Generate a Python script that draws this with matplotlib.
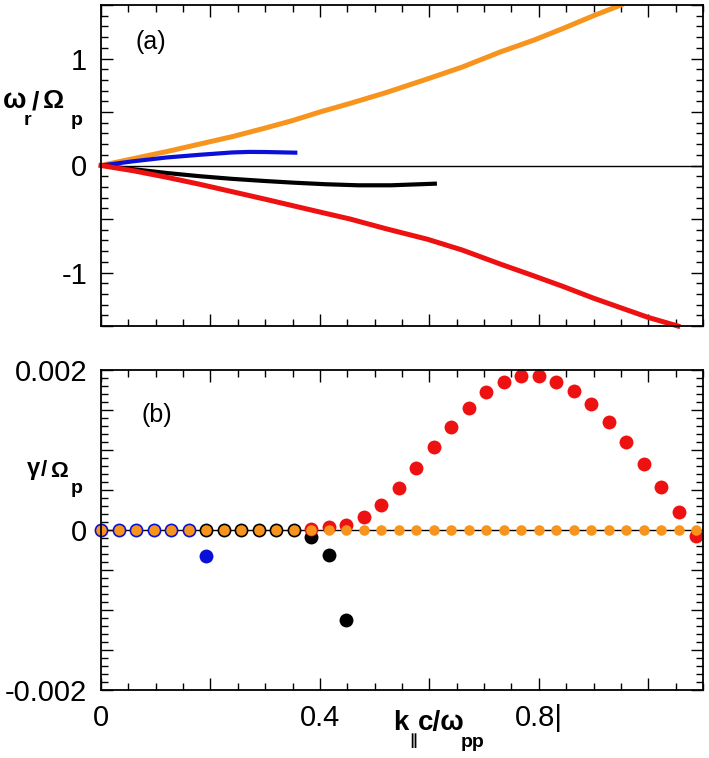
import numpy as np
import matplotlib
matplotlib.use('Agg')
import matplotlib.pyplot as plt
from matplotlib.ticker import MultipleLocator, FuncFormatter

plt.rcParams['font.family'] = ['Liberation Sans', 'DejaVu Sans']

orange_k = [0, 0.06, 0.12, 0.18, 0.24, 0.30, 0.35, 0.40, 0.455, 0.52, 0.597,
            0.66, 0.729, 0.79, 0.844, 0.90, 0.95]
orange_w = [0, 0.065, 0.13, 0.20, 0.27, 0.35, 0.42, 0.50, 0.58, 0.68, 0.81,
            0.92, 1.06, 1.17, 1.28, 1.40, 1.50]
blue_k = [0, 0.06, 0.12, 0.18, 0.24, 0.27, 0.30, 0.355]
blue_w = [0, 0.04, 0.075, 0.10, 0.122, 0.127, 0.126, 0.12]
black_k = [0, 0.06, 0.12, 0.18, 0.24, 0.30, 0.35, 0.41, 0.47, 0.53, 0.61]
black_w = [0, -0.035, -0.07, -0.10, -0.125, -0.145, -0.16, -0.175, -0.185,
           -0.185, -0.17]
red_k = [0, 0.06, 0.12, 0.18, 0.24, 0.30, 0.35, 0.40, 0.455, 0.52, 0.597,
         0.66, 0.729, 0.79, 0.844, 0.90, 0.95, 1.00, 1.054]
red_w = [0, -0.05, -0.11, -0.175, -0.245, -0.315, -0.375, -0.435, -0.50,
         -0.59, -0.69, -0.79, -0.92, -1.03, -1.13, -1.24, -1.33, -1.42, -1.50]

# (b) growth rates
k_grid = [0.0, 0.032, 0.064, 0.096, 0.128, 0.16, 0.192, 0.224, 0.256, 0.288,
          0.32, 0.352, 0.384, 0.416, 0.448, 0.48, 0.512, 0.544, 0.576, 0.608,
          0.64, 0.672, 0.704, 0.736, 0.768, 0.8, 0.832, 0.864, 0.896, 0.928,
          0.96, 0.992, 1.024, 1.056, 1.088]
blue_g = [0, 0, 0, 0, 0, 0, -0.00033]                      # k_grid[0:7]
black_g = [0, 0, 0, 0, 0, 0, -0.00009, -0.00031, -0.00113]  # k_grid[6:15]
red_g = [0.00001, 0.00004, 0.00006, 0.00016, 0.00031, 0.00052, 0.00077,
         0.00104, 0.00129, 0.00153, 0.00173, 0.00185, 0.00192, 0.00192,
         0.00185, 0.00174, 0.00158, 0.00135, 0.0011, 0.00083, 0.00054,
         0.00023, -0.00008]                                  # k_grid[12:35]
orange_g = [0] * len(k_grid)

c_orange = '#f7941d'
c_red = '#ee1111'
c_blue = '#0a10d8'

W, H = 709, 758
fig = plt.figure(figsize=(W / 100, H / 100), dpi=100)
ax1 = fig.add_axes([101 / W, 1 - 326 / H, 602 / W, 321 / H])
ax2 = fig.add_axes([101 / W, 1 - 690 / H, 602 / W, 320 / H])


def style_axis(ax):
    ax.tick_params(which='both', direction='in', top=True, right=True,
                   labelsize=21, width=1.0)
    ax.tick_params(which='major', length=8.5, pad=10)
    ax.tick_params(which='minor', length=5)
    for s in ax.spines.values():
        s.set_linewidth(1.3)
    ax.set_xlim(0, 1.1)
    ax.xaxis.set_major_locator(MultipleLocator(0.2))
    ax.xaxis.set_minor_locator(MultipleLocator(0.05))


# top panel
ax1.axhline(0, color='black', lw=1.0)
ax1.plot(orange_k, orange_w, color=c_orange, lw=3.6)
ax1.plot(blue_k, blue_w, color=c_blue, lw=3.0)
ax1.plot(black_k, black_w, color='black', lw=3.0)
ax1.plot(red_k, red_w, color=c_red, lw=3.6, clip_on=False)
style_axis(ax1)
ax1.set_ylim(-1.5, 1.5)
ax1.yaxis.set_major_locator(MultipleLocator(0.5))
ax1.yaxis.set_minor_locator(MultipleLocator(0.1))
ax1.yaxis.set_major_formatter(FuncFormatter(
    lambda v, p: f'{v:.0f}' if abs(v - round(v)) < 1e-6 and abs(v) < 1.4 else ''))
ax1.set_xticklabels([])
ax1.text(0.057, 0.885, '(a)', transform=ax1.transAxes, fontsize=18, va='center')

# bottom panel
ax2.axhline(0, color='black', lw=1.0)
ax2.plot(k_grid[0:7], blue_g, 'o', color=c_blue, ms=10, mew=0, clip_on=False)
ax2.plot(k_grid[6:15], black_g, 'o', color='black', ms=10, mew=0, clip_on=False)
ax2.plot(k_grid[12:35], red_g, 'o', color=c_red, ms=10, mew=0, clip_on=False)
ax2.plot(k_grid, orange_g, 'o', color=c_orange, ms=7.6, mew=0, clip_on=False)
style_axis(ax2)
ax2.set_ylim(-0.002, 0.002)
ax2.yaxis.set_major_locator(MultipleLocator(0.0005))
ax2.yaxis.set_minor_locator(MultipleLocator(0.0001))
ax2.yaxis.set_major_formatter(FuncFormatter(
    lambda v, p: {0.002: '0.002', 0.0: '0', -0.002: '-0.002'}.get(round(v, 4), '')))
ax2.xaxis.set_major_formatter(FuncFormatter(
    lambda v, p: {0.0: '0', 0.4: '0.4', 0.8: '0.8|'}.get(round(v, 2), '')))
ax2.text(0.068, 0.86, '(b)', transform=ax2.transAxes, fontsize=18, va='center')


def put(x, y, s, size, **kw):
    fig.text(x / W, 1 - y / H, s, fontsize=size, fontweight='bold',
             va='baseline', ha='left', **kw)


# axis labels built from pieces (big, dropped subscripts as in the original)
put(3, 108, 'ω', 20)
put(24, 125, 'r', 14)
put(32, 110, '/', 19)
put(43, 108, 'Ω', 19)
put(71, 125, 'p', 14)

put(27, 475, 'γ', 17)
put(41, 476, '/', 16)
put(50, 477, 'Ω', 16)
put(71, 493, 'p', 14)

put(393, 730, 'k', 20)
put(409, 745, '∥', 11, family='DejaVu Sans')
put(418, 730, 'c/ω', 20)
put(461, 747, 'pp', 14)

fig.savefig('out.png', dpi=100)
